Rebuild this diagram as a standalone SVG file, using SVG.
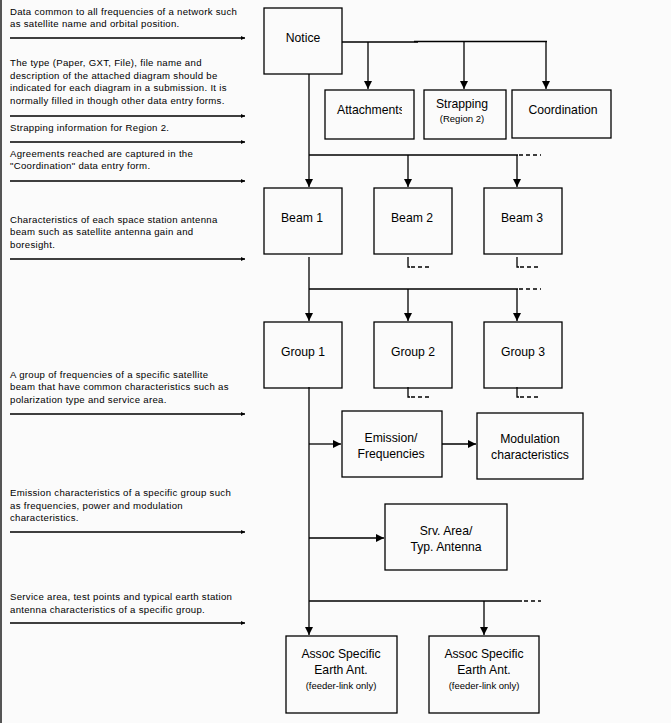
<svg xmlns="http://www.w3.org/2000/svg" width="671" height="723" viewBox="0 0 671 723">
<style>
.bg{fill:#fbfbfb}
.box{fill:none;stroke:#000;stroke-width:1.3}
.ln{fill:none;stroke:#000;stroke-width:1.3}
.dash{fill:none;stroke:#000;stroke-width:1.3;stroke-dasharray:4 3}
.desc{font-family:"Liberation Sans",Arial,sans-serif;font-size:9.6px;letter-spacing:0.3px;fill:#000}
.lbl{font-family:"Liberation Sans",Arial,sans-serif;font-size:12.2px;fill:#000;text-anchor:middle}
.sm{font-family:"Liberation Sans",Arial,sans-serif;font-size:9.5px;fill:#000;text-anchor:middle}
</style>
<defs>
<marker id="ah" viewBox="0 0 10 10" refX="10" refY="5" markerWidth="8" markerHeight="8" markerUnits="userSpaceOnUse" orient="auto">
<path d="M0,0 L10,5 L0,10 Z" fill="#000"/>
</marker>
<marker id="ahs" viewBox="0 0 10 10" refX="10" refY="5" markerWidth="4" markerHeight="5" markerUnits="userSpaceOnUse" orient="auto">
<path d="M0,0 L10,5 L0,10 Z" fill="#000"/>
</marker>
<clipPath id="attclip"><rect x="326" y="91" width="76" height="47"/></clipPath>
</defs>
<rect class="bg" x="0" y="0" width="671" height="723"/>
<line x1="1" y1="0" x2="1" y2="723" stroke="#555" stroke-width="2"/>

<g id="descriptions">
<text class="desc" x="10" y="15">Data common to all frequencies of a network such</text>
<text class="desc" x="10" y="27">as satellite name and orbital position.</text>
<text class="desc" x="10" y="66">The type (Paper, GXT, File), file name and</text>
<text class="desc" x="10" y="79">description of the attached diagram should be</text>
<text class="desc" x="10" y="91">indicated for each diagram in a submission. It is</text>
<text class="desc" x="10" y="104">normally filled in though other data entry forms.</text>
<text class="desc" x="10" y="131">Strapping information for Region 2.</text>
<text class="desc" x="10" y="157">Agreements reached are captured in the</text>
<text class="desc" x="10" y="169">"Coordination" data entry form.</text>
<text class="desc" x="10" y="223">Characteristics of each space station antenna</text>
<text class="desc" x="10" y="235">beam such as satellite antenna gain and</text>
<text class="desc" x="10" y="248">boresight.</text>
<text class="desc" x="10" y="378">A group of frequencies of a specific satellite</text>
<text class="desc" x="10" y="390">beam that have common characteristics such as</text>
<text class="desc" x="10" y="403">polarization type and service area.</text>
<text class="desc" x="10" y="496">Emission characteristics of a specific group such</text>
<text class="desc" x="10" y="509">as frequencies, power and modulation</text>
<text class="desc" x="10" y="521">characteristics.</text>
<text class="desc" x="10" y="600">Service area, test points and typical earth station</text>
<text class="desc" x="10" y="613">antenna characteristics of a specific group.</text>
</g>

<g id="connectors">
<line class="ln" x1="10" y1="38" x2="245" y2="38" marker-end="url(#ahs)"/>
<line class="ln" x1="10" y1="116" x2="245" y2="116" marker-end="url(#ahs)"/>
<line class="ln" x1="10" y1="142" x2="245" y2="142" marker-end="url(#ahs)"/>
<line class="ln" x1="10" y1="181" x2="245" y2="181" marker-end="url(#ahs)"/>
<line class="ln" x1="10" y1="259" x2="245" y2="259" marker-end="url(#ahs)"/>
<line class="ln" x1="10" y1="414" x2="245" y2="414" marker-end="url(#ahs)"/>
<line class="ln" x1="10" y1="532" x2="245" y2="532" marker-end="url(#ahs)"/>
<line class="ln" x1="10" y1="623" x2="245" y2="623" marker-end="url(#ahs)"/>

<!-- Notice to top row -->
<line class="ln" x1="342" y1="42" x2="418" y2="42"/>
<line class="ln" x1="414" y1="41.5" x2="547" y2="41.5"/>
<line class="ln" x1="368" y1="42" x2="368" y2="89" marker-end="url(#ah)"/>
<line class="ln" x1="464" y1="42" x2="464" y2="89" marker-end="url(#ah)"/>
<line class="ln" x1="546" y1="42" x2="546" y2="89" marker-end="url(#ah)"/>

<!-- Notice to beams -->
<line class="ln" x1="309" y1="74" x2="309" y2="187" marker-end="url(#ah)"/>
<line class="ln" x1="309" y1="155" x2="518" y2="155"/>
<line class="dash" x1="519" y1="155" x2="541" y2="155"/>
<line class="ln" x1="408" y1="155" x2="408" y2="187" marker-end="url(#ah)"/>
<line class="ln" x1="517" y1="155" x2="517" y2="187" marker-end="url(#ah)"/>

<!-- beam 2/3 stubs -->
<polyline class="ln" points="408,257 408,267 410,267"/>
<line class="dash" x1="411" y1="267" x2="431" y2="267"/>
<polyline class="ln" points="517,257 517,267 519,267"/>
<line class="dash" x1="520" y1="267" x2="540" y2="267"/>

<!-- Beam1 to groups -->
<line class="ln" x1="309" y1="257" x2="309" y2="321" marker-end="url(#ah)"/>
<line class="ln" x1="309" y1="289" x2="518" y2="289"/>
<line class="dash" x1="519" y1="289" x2="541" y2="289"/>
<line class="ln" x1="408" y1="289" x2="408" y2="321" marker-end="url(#ah)"/>
<line class="ln" x1="517" y1="289" x2="517" y2="321" marker-end="url(#ah)"/>

<!-- group 2/3 stubs -->
<polyline class="ln" points="408,387 408,397 410,397"/>
<line class="dash" x1="411" y1="397" x2="431" y2="397"/>
<polyline class="ln" points="517,387 517,397 519,397"/>
<line class="dash" x1="520" y1="397" x2="540" y2="397"/>

<!-- Group 1 trunk -->
<line class="ln" x1="309" y1="387" x2="309" y2="635" marker-end="url(#ah)"/>
<line class="ln" x1="309" y1="444" x2="341" y2="444" marker-end="url(#ah)"/>
<line class="ln" x1="442" y1="444" x2="476" y2="444" marker-end="url(#ah)"/>
<line class="ln" x1="309" y1="538" x2="384" y2="538" marker-end="url(#ah)"/>
<line class="ln" x1="309" y1="601" x2="522" y2="601"/>
<line class="dash" x1="524" y1="601" x2="541" y2="601"/>
<line class="ln" x1="484" y1="601" x2="484" y2="635" marker-end="url(#ah)"/>
</g>

<g id="notice"><rect class="box" x="264" y="8" width="78" height="66"/><text class="lbl" x="303" y="42">Notice</text></g>
<g id="attachments"><rect class="box" x="325" y="90" width="89" height="49"/><text class="lbl" x="337" y="114" style="text-anchor:start" clip-path="url(#attclip)">Attachments</text></g>
<g id="strapping"><rect class="box" x="424" y="90" width="82" height="49"/><text class="lbl" x="462" y="108">Strapping</text><text class="sm" x="462" y="122">(Region 2)</text></g>
<g id="coordination"><rect class="box" x="512" y="90" width="99" height="48"/><text class="lbl" x="563" y="114">Coordination</text></g>

<g id="beam1"><rect class="box" x="264" y="188" width="78" height="66"/><text class="lbl" x="302" y="222">Beam 1</text></g>
<g id="beam2"><rect class="box" x="374" y="188" width="78" height="66"/><text class="lbl" x="412" y="222">Beam 2</text></g>
<g id="beam3"><rect class="box" x="484" y="188" width="78" height="66"/><text class="lbl" x="522" y="222">Beam 3</text></g>

<g id="group1"><rect class="box" x="264" y="322" width="78" height="66"/><text class="lbl" x="303" y="356">Group 1</text></g>
<g id="group2"><rect class="box" x="374" y="322" width="78" height="66"/><text class="lbl" x="413" y="356">Group 2</text></g>
<g id="group3"><rect class="box" x="484" y="322" width="78" height="66"/><text class="lbl" x="523" y="356">Group 3</text></g>

<g id="emission"><rect class="box" x="342" y="411" width="100" height="66"/><text class="lbl" x="391" y="442">Emission/</text><text class="lbl" x="391" y="458">Frequencies</text></g>
<g id="modulation"><rect class="box" x="477" y="413" width="106" height="66"/><text class="lbl" x="530" y="443">Modulation</text><text class="lbl" x="530" y="459">characteristics</text></g>

<g id="srvarea"><rect class="box" x="385" y="504" width="122" height="66"/><text class="lbl" x="446" y="535">Srv. Area/</text><text class="lbl" x="446" y="551">Typ. Antenna</text></g>

<g id="assoc1"><rect class="box" x="286" y="636" width="111" height="77"/><text class="lbl" x="341" y="658">Assoc Specific</text><text class="lbl" x="341" y="674">Earth Ant.</text><text class="sm" x="341" y="689">(feeder-link only)</text></g>
<g id="assoc2"><rect class="box" x="429" y="636" width="110" height="77"/><text class="lbl" x="484" y="658">Assoc Specific</text><text class="lbl" x="484" y="674">Earth Ant.</text><text class="sm" x="484" y="689">(feeder-link only)</text></g>
</svg>
